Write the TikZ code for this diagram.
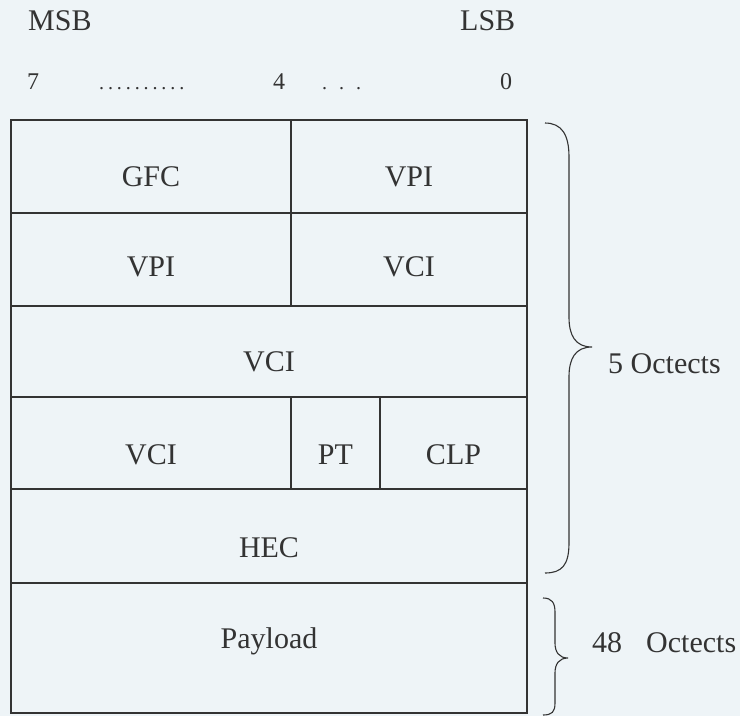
\documentclass[tikz,border=0pt]{standalone}
\usepackage{fontspec}
\setmainfont{Liberation Serif}
\definecolor{bgc}{HTML}{EEF4F7}
\definecolor{ink}{HTML}{333333}
\begin{document}
\begin{tikzpicture}[x=1pt,y=-1pt,
  lbl/.style={font=\fontsize{30}{34}\selectfont, text=ink, inner sep=0pt, anchor=base},
  lblw/.style={lbl, anchor=base west},
  bit/.style={font=\fontsize{24}{28}\selectfont, text=ink, inner sep=0pt, anchor=base west},
  dots/.style={font=\fontsize{20}{24}\selectfont, text=ink, inner sep=0pt, anchor=base west},
  cellline/.style={draw=ink, line width=1.1pt},
  bracestyle/.style={draw=ink, line width=1.1pt}]
\fill[bgc] (0,0) rectangle (740,716);
\useasboundingbox (0,0) rectangle (740,716);
% header
\node[lblw] (msb) at (28,30) {MSB};
\node[lblw] (lsb) at (460,30) {LSB};
\node[bit] (b7) at (27,89) {7};
\node[dots] (d1) at (99,89) {.\kern3.9pt.\kern3.9pt.\kern3.9pt.\kern3.9pt.\kern3.9pt.\kern3.9pt.\kern3.9pt.\kern3.9pt.\kern3.9pt.};
\node[bit] (b4) at (273,89) {4};
\node[dots] (d2) at (322,89) {.\kern12pt.\kern12pt.};
\node[bit] (b0) at (500,89) {0};
% grid
\draw[cellline] (11,120) rectangle (527,583);
\draw[cellline] (11,583) rectangle (527,713);
\draw[cellline] (11,213) -- (527,213);
\draw[cellline] (11,306) -- (527,306);
\draw[cellline] (11,397) -- (527,397);
\draw[cellline] (11,489) -- (527,489);
\draw[cellline] (291,120) -- (291,306);
\draw[cellline] (291,397) -- (291,489);
\draw[cellline] (380,397) -- (380,489);
% labels
\node[lbl] (gfc) at (151,186) {GFC};
\node[lbl] (vpi1) at (409,186) {VPI};
\node[lbl] (vpi2) at (151,276) {VPI};
\node[lbl] (vci1) at (409,276) {VCI};
\node[lbl] (vci2) at (269,371) {VCI};
\node[lbl] (vci3) at (151,464) {VCI};
\node[lbl] (pt) at (335.5,464) {PT};
\node[lbl] (clp) at (453.5,464) {CLP};
\node[lbl] (hec) at (269,557) {HEC};
\node[lbl] (pay) at (269,648) {Payload};
% braces
\draw[bracestyle] (545,123) .. controls (562,123) and (569,135) .. (569,157) -- (569,317)
  .. controls (569,335) and (575,347) .. (592,347)
  .. controls (575,347) and (569,359) .. (569,377) -- (569,543)
  .. controls (569,565) and (562,573) .. (545,573);
\node[lblw] (oct5) at (608,373) {5 Octects};
\draw[bracestyle] (543,598) .. controls (552,598) and (555,603) .. (555,612) -- (555,643)
  .. controls (555,652) and (559,658) .. (568,658)
  .. controls (559,658) and (555,664) .. (555,673) -- (555,703)
  .. controls (555,712) and (552,715) .. (543,715);
\node[lblw] (oct48) at (592,652) {48\hspace{24pt}Octects};
\end{tikzpicture}
\end{document}
